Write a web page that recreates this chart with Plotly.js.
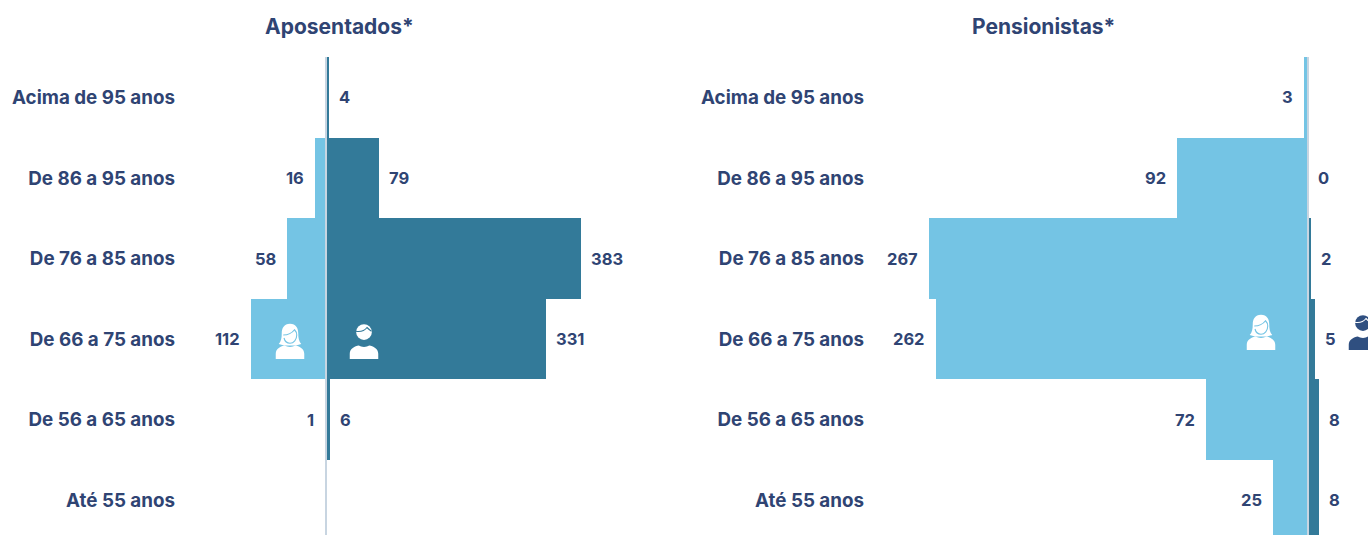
<!DOCTYPE html>
<html>
<head>
<meta charset="utf-8">
<script src="https://cdn.plot.ly/plotly-3.0.1.min.js"></script>
<style>html,body{margin:0;padding:0;background:#fff;overflow:hidden}</style>
</head>
<body>
<div id="chart" style="width:1368px;height:535px"></div>
<script>
// Age bands, bottom row first
const faixas = ['Até 55 anos','De 56 a 65 anos','De 66 a 75 anos','De 76 a 85 anos','De 86 a 95 anos','Acima de 95 anos'];
const aposentadosFem = [null, 1, 112, 58, 16, null];
const aposentadosMasc = [null, 6, 331, 383, 79, 4];
const pensionistasFem = [25, 72, 262, 267, 92, 3];
const pensionistasMasc = [8, 8, 5, 2, 0, null];

const W = 1368, H = 535;
const NAVY = '#2f4473', CLARO = '#74c4e4', ESCURO = '#337a99', EIXO = '#c8d5e1';
const fonte = '"Inter", sans-serif';

// Pixel layout of the two panels: left edge, right edge, zero position, px per person
const esq = {a: 183, b: 660, zero: 326, esc: 0.666};
const dir = {a: 872, b: 1368, zero: 1308, esc: 1.42};
const faixaX = p => [(p.a - p.zero) / p.esc, (p.b - p.zero) / p.esc];

function barras(vals, sinal, cor, xa, ya) {
  return {
    type: 'bar', orientation: 'h', y: faixas,
    x: vals.map(v => v === null ? null : sinal * v),
    marker: {color: cor, line: {width: 0}},
    xaxis: xa, yaxis: ya, hoverinfo: 'skip', showlegend: false
  };
}

function rotulos(vals, sinal, xa, ya) {
  return faixas.map((f, i) => vals[i] === null ? null : ({
    x: sinal * vals[i], y: f, xref: xa, yref: ya, text: String(vals[i]), showarrow: false,
    xanchor: sinal > 0 ? 'left' : 'right', xshift: sinal > 0 ? 8 : -9,
    font: {family: fonte, size: 16.5, color: NAVY, weight: 700}
  })).filter(Boolean);
}

const eixoY = (anchor) => ({
  type: 'category', categoryorder: 'array', categoryarray: faixas,
  range: [-0.43, 5.5], domain: [0, 1 - 57 / H], anchor: anchor,
  showgrid: false, zeroline: false, showline: false, ticks: '', ticklabelstandoff: 7,
  tickfont: {family: fonte, size: 18.8, color: NAVY, weight: 700}
});
const eixoX = (p, anchor) => ({
  domain: [p.a / W, p.b / W], range: faixaX(p), anchor: anchor, fixedrange: true,
  showgrid: false, showticklabels: false, ticks: '', showline: false, zeroline: false
});

// Zero line of a panel, drawn over the bars
const linhaZero = (xa, ya) => ({
  type: 'line', xref: xa, yref: ya + ' domain', x0: 0, x1: 0, y0: 0, y1: 1,
  line: {color: EIXO, width: 2}, layer: 'above'
});

// Person pictograms; the second colour picks out the hair on the background tone
const mulher = (cor, fundo) => 'data:image/svg+xml;utf8,' + encodeURIComponent(
  '<svg xmlns="http://www.w3.org/2000/svg" viewBox="0 0 40 48">' +
  `<path fill="${cor}" d="M20 1c-8 0-11 6-11 13 0 6-1 11-4 14l7 2h16l7-2c-3-3-4-8-4-14 0-7-3-13-11-13z"/>` +
  `<path fill="none" stroke="${fundo}" stroke-width="1.5" d="M11 16c6 0 12-3 15-7 2 2 3 4 3 7 0 6-4 11-9 11-4 0-7-3-8-7"/>` +
  `<path fill="${cor}" d="M1 48V41c0-7 7-10 12-11 2 1 4 2 7 2s5-1 7-2c5 1 12 4 12 11v7z"/></svg>`);

const homem = (cor, fundo) => 'data:image/svg+xml;utf8,' + encodeURIComponent(
  '<svg xmlns="http://www.w3.org/2000/svg" viewBox="0 0 40 48">' +
  `<circle cx="20" cy="12" r="10.5" fill="${cor}"/>` +
  `<path fill="none" stroke="${fundo}" stroke-width="1.5" d="M9 11c6 1 12-1 15-5 2 2 4 4 6 5"/>` +
  `<path fill="${cor}" d="M1 48V41c0-7 7-10 12-11 2 1 4 2 7 2s5-1 7-2c5 1 12 4 12 11v7z"/></svg>`);

const icone = (src, cx, cy) => ({
  source: src, xref: 'paper', yref: 'paper', xanchor: 'center', yanchor: 'middle',
  x: cx / W, y: 1 - cy / H, sizex: 32 / W, sizey: 36 / H, sizing: 'contain', layer: 'above'
});

const titulo = (t, cx) => ({
  text: t, x: cx / W, y: 1 - 26 / H, xref: 'paper', yref: 'paper', showarrow: false,
  xanchor: 'center', yanchor: 'middle',
  font: {family: fonte, size: 21, color: NAVY, weight: 700}
});

const layout = {
  width: W, height: H, margin: {l: 0, r: 0, t: 0, b: 0},
  paper_bgcolor: '#fff', plot_bgcolor: 'rgba(0,0,0,0)',
  barmode: 'overlay', bargap: 0,
  xaxis: eixoX(esq, 'y'), yaxis: eixoY('x'),
  xaxis2: eixoX(dir, 'y2'), yaxis2: eixoY('x2'),
  shapes: [linhaZero('x', 'y'), linhaZero('x2', 'y2')],
  annotations: [
    titulo('Aposentados*', 339), titulo('Pensionistas*', 1043),
    ...rotulos(aposentadosFem, -1, 'x', 'y'), ...rotulos(aposentadosMasc, 1, 'x', 'y'),
    ...rotulos(pensionistasFem, -1, 'x2', 'y2'), ...rotulos(pensionistasMasc, 1, 'x2', 'y2')
  ],
  images: [
    icone(mulher('#fff', CLARO), 290, 341), icone(homem('#fff', ESCURO), 364, 341),
    icone(mulher('#fff', CLARO), 1261, 332), icone(homem('#2f4f80', '#fff'), 1363, 332)
  ]
};

Plotly.newPlot('chart', [
  barras(aposentadosFem, -1, CLARO, 'x', 'y'),
  barras(aposentadosMasc, 1, ESCURO, 'x', 'y'),
  barras(pensionistasFem, -1, CLARO, 'x2', 'y2'),
  barras(pensionistasMasc, 1, ESCURO, 'x2', 'y2')
], layout, {staticPlot: true, displayModeBar: false});
</script>
</body>
</html>
